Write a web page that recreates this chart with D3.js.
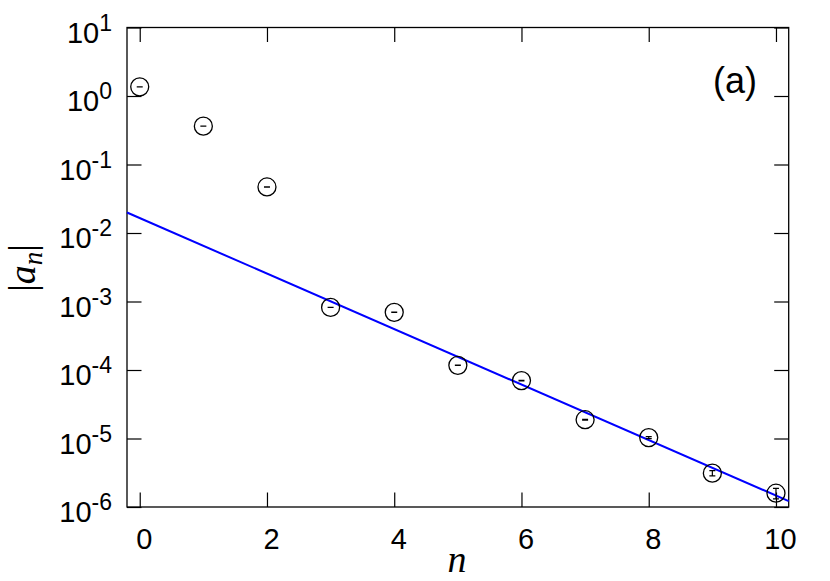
<!DOCTYPE html>
<html>
<head>
<meta charset="utf-8">
<script src="https://cdn.jsdelivr.net/npm/d3@7"></script>
<style>
  body { margin: 0; background: #fff; }
  svg { display: block; }
</style>
</head>
<body>
<div id="chart"></div>
<script>
// data
const nVals = [0, 1, 2, 3, 4, 5, 6, 7, 8, 9, 10]
const aVals = [1.36, 0.363, 0.047, 8.2e-4, 6.95e-4, 1.17e-4, 7.0e-5, 1.88e-5, 1.03e-5, 3.12e-6, 1.59e-6]
const aErr = [0.004, 0.001, 1.5e-4, 3e-6, 3e-6, 6e-7, 5e-7, 2.5e-7, 3.5e-7, 2.7e-7, 2.8e-7]

// fitted line (end points)
const fitN = [-0.2, 10.2]
const fitA = [1.99e-2, 1.22e-6]

const xTicks = [0, 2, 4, 6, 8, 10]
const yTicks = [1e1, 1e0, 1e-1, 1e-2, 1e-3, 1e-4, 1e-5, 1e-6]
const yExp = ["1", "0", "-1", "-2", "-3", "-4", "-5", "-6"]

const width = 830
const height = 581
const margin = { top: 27.5, right: 41.3, bottom: 74, left: 127 }
const tickLen = 14.5

const svg = d3.select('#chart')
  .append('svg')
  .attr('width', width)
  .attr('height', height)

const x = d3.scaleLinear()
  .domain([-0.2, 10.2])
  .range([margin.left, width - margin.right])

const y = d3.scaleLog()
  .domain([1e-6, 1e1])
  .range([height - margin.bottom, margin.top])

const labelFont = "'Liberation Sans', Arial, Helvetica, sans-serif"

// axes, ticks pointing inward
svg.append('g')
  .attr('transform', `translate(0,${height - margin.bottom})`)
  .call(d3.axisBottom(x).tickValues(xTicks).tickSize(-tickLen).tickPadding(tickLen + 7).tickFormat(d3.format('d')))
  .call(g => g.select('.domain').remove())
  .call(g => g.selectAll('line').attr('stroke', '#000').attr('stroke-width', 1.2))
  .call(g => g.selectAll('text')
    .attr('font-family', labelFont)
    .attr('font-size', 29)
    .attr('fill', '#000')
    .attr('dx', 4))

svg.append('g')
  .attr('transform', `translate(0,${margin.top})`)
  .call(d3.axisTop(x).tickValues(xTicks).tickSize(-tickLen).tickFormat(''))
  .call(g => g.select('.domain').remove())
  .call(g => g.selectAll('line').attr('stroke', '#000').attr('stroke-width', 1.2))

svg.append('g')
  .attr('transform', `translate(${width - margin.right},0)`)
  .call(d3.axisRight(y).tickValues(yTicks).tickSize(-tickLen).tickFormat(''))
  .call(g => g.select('.domain').remove())
  .call(g => g.selectAll('line').attr('stroke', '#000').attr('stroke-width', 1.2))

const yAxis = svg.append('g')
  .attr('transform', `translate(${margin.left},0)`)
  .call(d3.axisLeft(y).tickValues(yTicks).tickSize(-tickLen).tickFormat(''))
  .call(g => g.select('.domain').remove())
  .call(g => g.selectAll('line').attr('stroke', '#000').attr('stroke-width', 1.2))

// y tick labels 10^k
yAxis.selectAll('.tick')
  .append('text')
  .attr('x', -15)
  .attr('y', 14.5)
  .attr('text-anchor', 'end')
  .attr('font-family', labelFont)
  .attr('font-size', 29)
  .attr('fill', '#000')
  .each(function(d, i) {
    const t = d3.select(this)
    t.append('tspan').text('10')
    t.append('tspan').attr('font-size', 23).attr('dy', -12).text(yExp[i])
  })

// frame
svg.append('rect')
  .attr('x', margin.left)
  .attr('y', margin.top)
  .attr('width', width - margin.left - margin.right)
  .attr('height', height - margin.top - margin.bottom)
  .attr('fill', 'none')
  .attr('stroke', '#000')
  .attr('stroke-width', 1.3)

// fit line
const line = d3.line()
  .x(d => x(d[0]))
  .y(d => y(d[1]))

svg.append('path')
  .datum(fitN.map((n, i) => [n, fitA[i]]))
  .attr('d', line)
  .attr('fill', 'none')
  .attr('stroke', '#0000ff')
  .attr('stroke-width', 2)

// points with error bars
const pts = svg.append('g')
  .selectAll('g')
  .data(nVals.map((n, i) => ({ n, a: aVals[i], e: aErr[i] })))
  .enter()
  .append('g')

const cap = 3
pts.append('path')
  .attr('d', d => {
    const cx = x(d.n)
    const y1 = y(d.a + d.e)
    const y0 = y(d.a - d.e)
    return `M${cx},${y0}V${y1}M${cx - cap},${y1}H${cx + cap}M${cx - cap},${y0}H${cx + cap}`
  })
  .attr('fill', 'none')
  .attr('stroke', '#000')
  .attr('stroke-width', 1.2)

pts.append('circle')
  .attr('cx', d => x(d.n))
  .attr('cy', d => y(d.a))
  .attr('r', 9)
  .attr('fill', 'none')
  .attr('stroke', '#000')
  .attr('stroke-width', 1.3)

// axis titles
svg.append('text')
  .attr('x', 457)
  .attr('y', 572)
  .attr('text-anchor', 'middle')
  .attr('font-family', "'Liberation Serif', 'Times New Roman', serif")
  .attr('font-style', 'italic')
  .attr('font-size', 38)
  .text('n')

const ylab = svg.append('text')
  .attr('transform', 'translate(35,268) rotate(-90)')
  .attr('text-anchor', 'middle')
  .attr('font-family', "'Liberation Serif', 'Times New Roman', serif")
  .attr('font-size', 38)
ylab.append('tspan').text('|')
ylab.append('tspan').attr('font-style', 'italic').text('a')
ylab.append('tspan').attr('font-style', 'italic').attr('font-size', 27).attr('dy', 7).text('n')
ylab.append('tspan').attr('dy', -7).text('|')

// panel label
svg.append('text')
  .attr('x', 757)
  .attr('y', 93)
  .attr('text-anchor', 'end')
  .attr('font-family', labelFont)
  .attr('font-size', 36)
  .text('(a)')
</script>
</body>
</html>
